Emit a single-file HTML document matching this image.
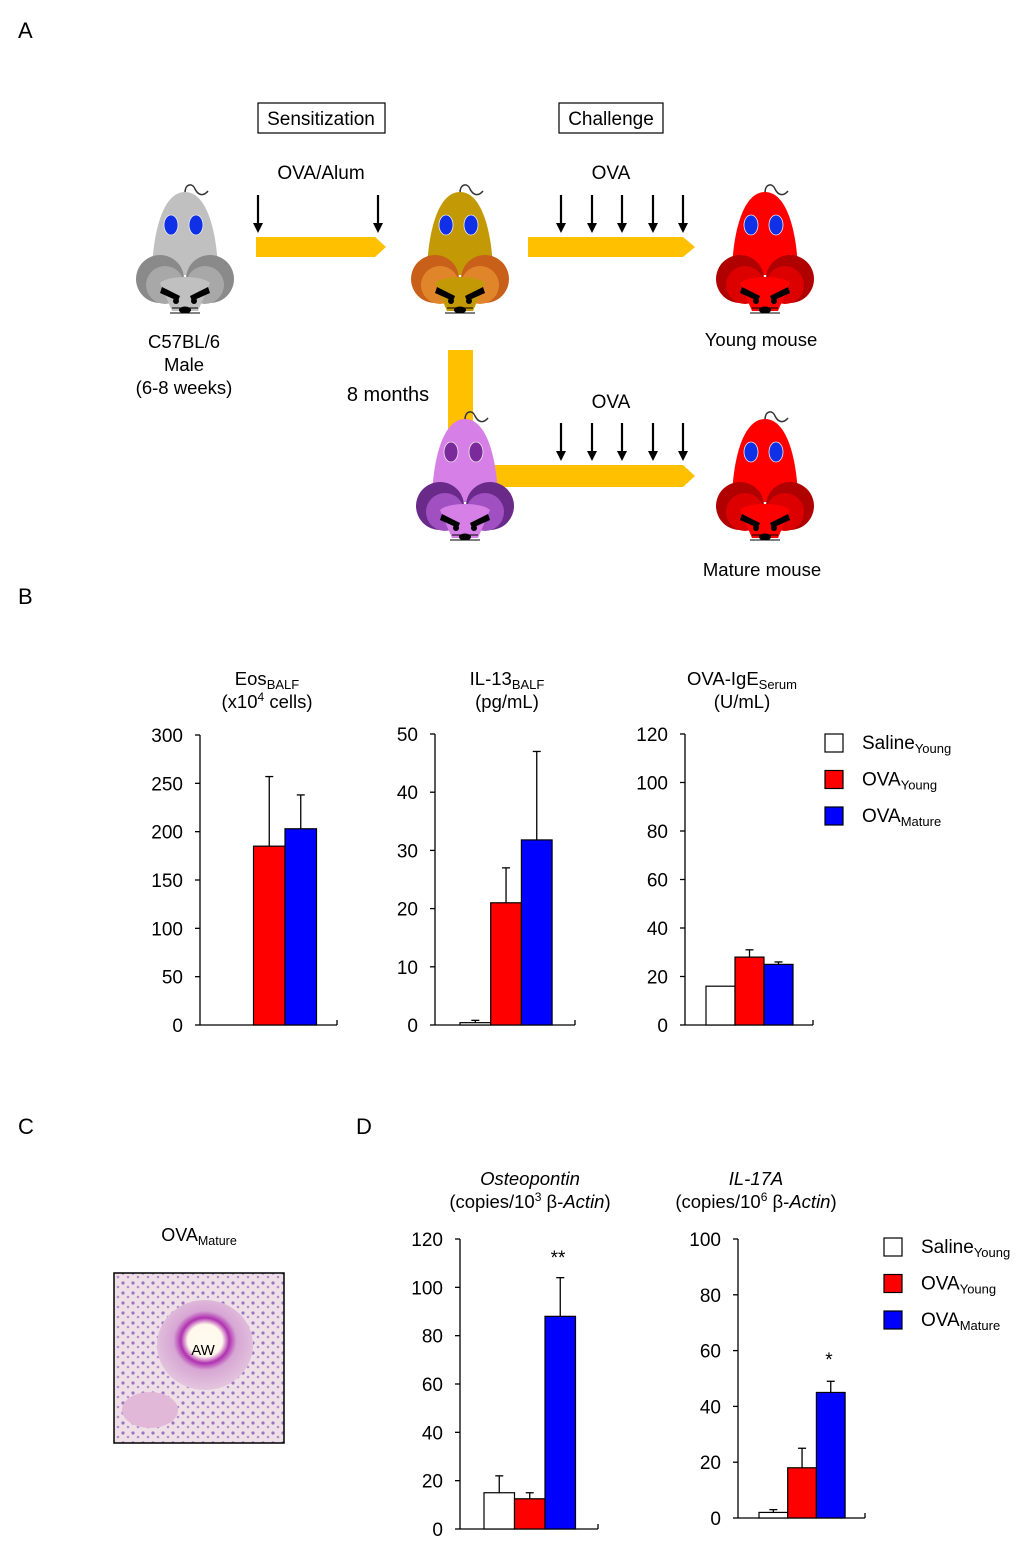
<!DOCTYPE html>
<html><head><meta charset="utf-8"><style>
html,body{margin:0;padding:0;background:#fff}
svg{display:block;font-family:"Liberation Sans",sans-serif}
</style></head><body>
<svg id="fig" width="1020" height="1560" viewBox="0 0 1020 1560" xmlns="http://www.w3.org/2000/svg">
<g>
<text x="18" y="38" font-size="22">A</text>
<rect x="258" y="103" width="127" height="30" fill="none" stroke="#000" stroke-width="1.2"/>
<text x="321" y="125" font-size="19" text-anchor="middle">Sensitization</text>
<rect x="559" y="103" width="104" height="30" fill="none" stroke="#000" stroke-width="1.2"/>
<text x="611" y="125" font-size="19" text-anchor="middle">Challenge</text>
<text x="321" y="179" font-size="19" text-anchor="middle">OVA/Alum</text>
<text x="611" y="179" font-size="19" text-anchor="middle">OVA</text>
<text x="611" y="408" font-size="19" text-anchor="middle">OVA</text>
<polygon points="256,237 375,237 386,247 375,257 256,257" fill="#ffc000"/>
<polygon points="528,237 683,237 695,247 683,257 528,257" fill="#ffc000"/>
<rect x="448" y="350" width="25" height="85" fill="#ffc000"/>
<polygon points="480,465 683,465 695,476 683,487 480,487" fill="#ffc000"/>
<text x="388" y="401" font-size="20" text-anchor="middle">8 months</text>
<g id="arrows"></g>
<g id="mice"></g>
<text x="184" y="348" font-size="18.5" text-anchor="middle">C57BL/6</text>
<text x="184" y="371" font-size="18.5" text-anchor="middle">Male</text>
<text x="184" y="394" font-size="18.5" text-anchor="middle">(6-8 weeks)</text>
<text x="761" y="346" font-size="18.5" text-anchor="middle">Young mouse</text>
<text x="762" y="576" font-size="18.5" text-anchor="middle">Mature mouse</text>
</g>
<text x="18" y="604" font-size="22">B</text>
<text x="18" y="1134" font-size="22">C</text>
<text x="356" y="1134" font-size="22">D</text>
<g>
<text x="199" y="1241" font-size="18" text-anchor="middle">OVA<tspan font-size="12.5" dy="4">Mature</tspan></text>
<defs><radialGradient id="aw" cx="0.5" cy="0.45" r="0.6"><stop offset="0" stop-color="#fffbf0"/><stop offset="0.3" stop-color="#fff8ec"/><stop offset="0.42" stop-color="#b030b0"/><stop offset="0.55" stop-color="#d7a6d4"/><stop offset="1" stop-color="#e6cde0"/></radialGradient>
<pattern id="cells" width="10" height="10" patternUnits="userSpaceOnUse"><rect width="10" height="10" fill="#efe0e8"/><circle cx="3" cy="3" r="1.6" fill="#9a74c0"/><circle cx="8" cy="7" r="1.3" fill="#b48ccc"/></pattern></defs>
<rect x="114" y="1273" width="170" height="170" fill="url(#cells)"/>
<ellipse cx="205" cy="1345" rx="48" ry="45" fill="url(#aw)"/>
<ellipse cx="150" cy="1410" rx="28" ry="18" fill="#e2b8d8"/>
<rect x="114" y="1273" width="170" height="170" fill="none" stroke="#000" stroke-width="1.5"/>
<text x="203" y="1355" font-size="15" text-anchor="middle">AW</text>
</g>
<g id="charts"></g>
</svg>
<script>
const NS="http://www.w3.org/2000/svg";
function mk(p,tag,a){const e=document.createElementNS(NS,tag);for(const k in a)e.setAttribute(k,a[k]);p.appendChild(e);return e;}
const arrowXs=[258,378,561,592,622,653,683,561,592,622,653,683];
const arrowYs=[195,195,195,195,195,195,195,423,423,423,423,423];
const ag=document.getElementById('arrows');
arrowXs.forEach((x,i)=>{const y=arrowYs[i];
 const l=mk(ag,'line',{x1:x,y1:y,x2:x,y2:y+32,stroke:'#000','stroke-width':2.2});
 
 
 const h=mk(ag,'polygon',{points:`${x-5},${y+28} ${x+5},${y+28} ${x},${y+38}`,fill:'#000'});
 
 
});
const mg=document.getElementById('mice');
function mouse(x0,y0,body,ear,earIn,eye,name){
 const g=mk(mg,'g',{transform:`translate(${x0},${y0})`});
 
 
 mk(g,'path',{d:'M47,10 C47,0 55,0 57,6 C60,12 65,14 70,8',fill:'none',stroke:'#333','stroke-width':1.5});
 mk(g,'path',{d:'M47,9 C72,9 80,60 80,92 L14,92 C14,60 22,9 47,9 Z',fill:body});
 mk(g,'circle',{cx:22,cy:96,r:24,fill:ear});
 mk(g,'circle',{cx:72,cy:96,r:24,fill:ear});
 mk(g,'circle',{cx:27,cy:102,r:19,fill:earIn});
 mk(g,'circle',{cx:67,cy:102,r:19,fill:earIn});
 mk(g,'path',{d:'M22,100 C30,92 64,92 72,100 L60,128 L34,128 Z',fill:body});
 mk(g,'ellipse',{cx:33,cy:42,rx:7,ry:10,fill:eye,stroke:'#eee','stroke-width':0.8});
 mk(g,'ellipse',{cx:58,cy:42,rx:7,ry:10,fill:eye,stroke:'#eee','stroke-width':0.8});
 mk(g,'polygon',{points:'24,104 42,113 40,118 22,110',fill:'#000'});
 mk(g,'polygon',{points:'70,104 52,113 54,118 72,110',fill:'#000'});
 mk(g,'circle',{cx:38,cy:118,r:3,fill:'#000'});mk(g,'circle',{cx:56,cy:118,r:3,fill:'#000'});
 mk(g,'ellipse',{cx:47,cy:127,rx:6,ry:3.5,fill:'#000'});
 mk(g,'line',{x1:32,y1:130,x2:62,y2:130,stroke:'#000','stroke-width':1});
 mk(g,'line',{x1:34,y1:125,x2:60,y2:125,stroke:'#000','stroke-width':1});
}
mouse(138,183,'#c0c0c0','#8a8a8a','#a8a8a8','#1030e8','mouse-naive');
mouse(413,183,'#c39a06','#c8601a','#e0852a','#1030e8','mouse-sensitized');
mouse(718,183,'#ff0000','#b00000','#dd0000','#1030e8','mouse-young');
mouse(418,410,'#d67fe6','#6a2a8a','#a050c0','#7a2a9a','mouse-aging');
mouse(718,410,'#ff0000','#b00000','#dd0000','#1030e8','mouse-mature');

const groups=['SalineYoung','OVAYoung','OVAMature'];
const fills=['#fff','#ff0000','#0000ff'];
const eosVals=[null,185,203], eosErr=[null,257,238], eosTicks=[0,50,100,150,200,250,300];
const il13Vals=[0.4,21,31.8], il13Err=[0.8,27,47], il13Ticks=[0,10,20,30,40,50];
const igeVals=[16,28,25], igeErr=[null,31,26], igeTicks=[0,20,40,60,80,100,120];
const opnVals=[15,12.5,88], opnErr=[22,15,104], opnTicks=[0,20,40,60,80,100,120];
const il17Vals=[2,18,45], il17Err=[3,25,49], il17Ticks=[0,20,40,60,80,100];

const cg=document.getElementById('charts');
function chart(o){
 const g=mk(cg,'g',{});
 
 
 const max=o.ticks[o.ticks.length-1];
 const y=v=>o.y0-(v/max)*(o.y0-o.yTop);
 const ax=mk(g,'line',{x1:o.ax,y1:o.yTop,x2:o.ax,y2:o.y0,stroke:'#000','stroke-width':1.3});
 
 
 const xa=mk(g,'line',{x1:o.ax,y1:o.y0,x2:o.xEnd,y2:o.y0,stroke:'#000','stroke-width':1.3});
 
 
 const t=mk(g,'line',{x1:o.xEnd,y1:o.y0,x2:o.xEnd,y2:o.y0-5,stroke:'#000','stroke-width':1.3});
 
 
 o.ticks.forEach(v=>{
  const tk=mk(g,'line',{x1:o.ax-5,y1:y(v),x2:o.ax,y2:y(v),stroke:'#000','stroke-width':1.3});
  
  
  const tl=mk(g,'text',{x:o.ax-17,y:y(v)+7,'font-size':19,'text-anchor':'end'});
  tl.textContent=v;
  
  
 });
 o.vals.forEach((v,i)=>{
  if(v==null)return;
  const bx=o.bx+i*o.bw;
  if(o.err[i]!=null){
   const cx=bx+o.bw/2;
   const e=mk(g,'line',{x1:cx,y1:y(v),x2:cx,y2:y(o.err[i]),stroke:'#000','stroke-width':1.3});
   
   
   const c=mk(g,'line',{x1:cx-4,y1:y(o.err[i]),x2:cx+4,y2:y(o.err[i]),stroke:'#000','stroke-width':1.3});
   
   
  }
  const r=mk(g,'rect',{x:bx,y:y(v),width:o.bw,height:o.y0-y(v),fill:fills[i],stroke:'#000','stroke-width':1.2});
  
  
 });
 if(o.star){const s=mk(g,'text',{x:o.star[0],y:o.star[1],'font-size':19,'text-anchor':'middle'});s.textContent=o.star[2];
  
  }
 return g;
}
chart({name:'chart-eos',ax:200,y0:1025,yTop:735,xEnd:337,bx:222,bw:31.5,vals:eosVals,err:eosErr,ticks:eosTicks});
chart({name:'chart-il13',ax:435,y0:1025,yTop:734,xEnd:575,bx:460,bw:30.7,vals:il13Vals,err:il13Err,ticks:il13Ticks});
chart({name:'chart-ige',ax:685,y0:1025,yTop:734,xEnd:813,bx:706,bw:29,vals:igeVals,err:igeErr,ticks:igeTicks});
chart({name:'chart-osteopontin',ax:460,y0:1529,yTop:1239,xEnd:598,bx:484,bw:30.5,vals:opnVals,err:opnErr,ticks:opnTicks,star:[558,1264,'**']});
chart({name:'chart-il17a',ax:738,y0:1518,yTop:1239,xEnd:865,bx:759,bw:28.7,vals:il17Vals,err:il17Err,ticks:il17Ticks,star:[829,1366,'*']});

function title(x,y,html,name){const t=mk(cg,'text',{x:x,y:y,'font-size':18.5,'text-anchor':'middle'});t.innerHTML=html;
 
 }
title(267,685,'Eos<tspan font-size="13" dy="4">BALF</tspan>','eos-title');
title(267,708,'(x10<tspan font-size="12" dy="-7">4</tspan><tspan dy="7"> cells)</tspan>','eos-units');
title(507,685,'IL-13<tspan font-size="13" dy="4">BALF</tspan>','il13-title');
title(507,708,'(pg/mL)','il13-units');
title(742,685,'OVA-IgE<tspan font-size="13" dy="4">Serum</tspan>','ige-title');
title(742,708,'(U/mL)','ige-units');
title(530,1185,'<tspan font-style="italic">Osteopontin</tspan>','osteopontin-title');
title(530,1208,'(copies/10<tspan font-size="12" dy="-7">3</tspan><tspan dy="7"> β-</tspan><tspan font-style="italic">Actin</tspan>)','osteopontin-units');
title(756,1185,'<tspan font-style="italic">IL-17A</tspan>','il17a-title');
title(756,1208,'(copies/10<tspan font-size="12" dy="-7">6</tspan><tspan dy="7"> β-</tspan><tspan font-style="italic">Actin</tspan>)','il17a-units');

const legNames=['Saline','OVA','OVA'], legSubs=['Young','Young','Mature'];
function legend(x,y,name){
 const g=mk(cg,'g',{});
 
 
 legNames.forEach((n,i)=>{
  const yy=y+i*36.5;
  const r=mk(g,'rect',{x:x,y:yy,width:18,height:18,fill:fills[i],stroke:'#000','stroke-width':1.2});
  
  
  const t=mk(g,'text',{x:x+37,y:yy+15,'font-size':19});
  t.innerHTML=n+'<tspan font-size="13" dy="4">'+legSubs[i]+'</tspan>';
  
  
 });
}
legend(825,734,'legend-b');
legend(884,1238,'legend-d');
</script>
</body></html>
